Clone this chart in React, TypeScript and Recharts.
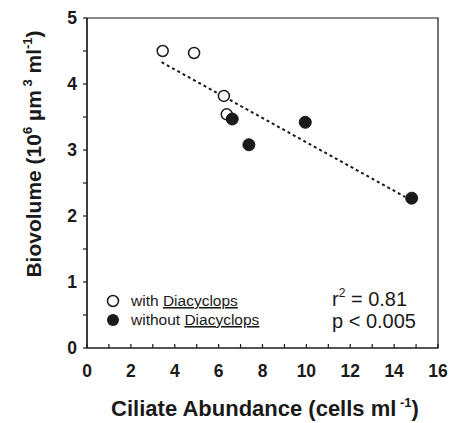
import { ReferenceArea, Scatter, ScatterChart, XAxis, YAxis } from "recharts"

const withX = [3.45, 4.88, 6.24, 6.37]
const withY = [4.5, 4.47, 3.82, 3.54]
const withoutX = [6.62, 7.38, 9.95, 14.8]
const withoutY = [3.47, 3.08, 3.42, 2.27]
const fitX = [3.4, 14.5]
const fitY = [4.33, 2.29]

const xTicks = [0, 1, 2, 3, 4, 5, 6, 7, 8, 9, 10, 11, 12, 13, 14, 15, 16]
const yTicks = [0, 0.5, 1, 1.5, 2, 2.5, 3, 3.5, 4, 4.5, 5]

const withData = withX.map((x, i) => ({ x, y: withY[i] }))
const withoutData = withoutX.map((x, i) => ({ x, y: withoutY[i] }))
const fitData = fitX.map((x, i) => ({ x, y: fitY[i] }))

const FONT = "'Liberation Sans', Arial, Helvetica, sans-serif"
const INK = "#1a1a1a"

// ticks point inward on x, outward on y, like the scanned figure
const XTick = ({ x, y, payload }: any) => (
  <g>
    <line x1={x} x2={x} y1={y} y2={y - 4} stroke={INK} strokeWidth={1.2} />
    {payload.value % 2 === 0 && (
      <text x={x} y={y + 29} textAnchor="middle" fontSize={17.5} fontWeight="bold" fill={INK} fontFamily={FONT}>
        {payload.value}
      </text>
    )}
  </g>
)

const YTick = ({ x, y, payload }: any) => (
  <g>
    <line x1={x} x2={x - 4} y1={y} y2={y} stroke={INK} strokeWidth={1.2} />
    {payload.value % 1 === 0 && (
      <text x={x - 10} y={y + 6} textAnchor="end" fontSize={17.5} fontWeight="bold" fill={INK} fontFamily={FONT}>
        {payload.value}
      </text>
    )}
  </g>
)

const OpenDot = ({ cx, cy }: any) => (
  <circle cx={cx} cy={cy} r={5.5} fill="#fff" stroke={INK} strokeWidth={1.5} />
)
const FilledDot = ({ cx, cy }: any) => (
  <circle cx={cx} cy={cy} r={6} fill={INK} stroke={INK} strokeWidth={1} />
)
const NoDot = () => <g />

export default function App() {
  return (
    <div style={{ position: "absolute", left: 0, top: 0, width: 452, height: 423, background: "#fff" }}>
      <ScatterChart
        width={452}
        height={423}
        margin={{ top: 18, right: 14, bottom: 45, left: 47 }}
      >
        <XAxis
          type="number"
          dataKey="x"
          domain={[0, 16]}
          ticks={xTicks}
          interval={0}
          height={30}
          tickSize={0}
          tickMargin={0}
          tickLine={false}
          tick={<XTick />}
          stroke={INK}
          strokeWidth={1.2}
          allowDataOverflow
        />
        <YAxis
          type="number"
          dataKey="y"
          domain={[0, 5]}
          ticks={yTicks}
          interval={0}
          width={40}
          tickSize={0}
          tickMargin={0}
          tickLine={false}
          tick={<YTick />}
          stroke={INK}
          strokeWidth={1.2}
          allowDataOverflow
        />
        <ReferenceArea x1={0} x2={16} y1={0} y2={5} fill="none" stroke={INK} strokeWidth={1.2} />
        <Scatter
          data={fitData}
          line={{ stroke: INK, strokeWidth: 2, strokeDasharray: "3 3" }}
          shape={<NoDot />}
          isAnimationActive={false}
        />
        <Scatter data={withData} shape={<OpenDot />} isAnimationActive={false} />
        <Scatter data={withoutData} shape={<FilledDot />} isAnimationActive={false} />
      </ScatterChart>
      <svg
        width={452}
        height={423}
        style={{ position: "absolute", left: 0, top: 0, pointerEvents: "none" }}
        fontFamily={FONT}
        fill={INK}
      >
        <circle cx={113} cy={301} r={5.5} fill="#fff" stroke={INK} strokeWidth={1.5} />
        <text x={131} y={306} fontSize={15.5}>
          with <tspan textDecoration="underline">Diacyclops</tspan>
        </text>
        <circle cx={113} cy={320} r={6} fill={INK} />
        <text x={131} y={325} fontSize={15.5}>
          without <tspan textDecoration="underline">Diacyclops</tspan>
        </text>
        <text x={332} y={306} fontSize={20}>
          r<tspan dy={-9} fontSize={12}>2</tspan>
          <tspan dy={9}> = 0.81</tspan>
        </text>
        <text x={332} y={328} fontSize={20}>
          p &lt; 0.005
        </text>
        <text x={265} y={416} textAnchor="middle" fontSize={22} fontWeight="bold">
          Ciliate Abundance (cells ml
          <tspan dy={-9} fontSize={13}> -1</tspan>
          <tspan dy={9}>)</tspan>
        </text>
        <text
          transform="translate(41,154) rotate(-90)"
          textAnchor="middle"
          fontSize={21}
          fontWeight="bold"
        >
          Biovolume (10
          <tspan dy={-9} fontSize={13}>6</tspan>
          <tspan dy={9}> µm</tspan>
          <tspan dy={-9} fontSize={13}> 3</tspan>
          <tspan dy={9}> ml</tspan>
          <tspan dy={-9} fontSize={13}>-1</tspan>
          <tspan dy={9}>)</tspan>
        </text>
      </svg>
    </div>
  )
}
